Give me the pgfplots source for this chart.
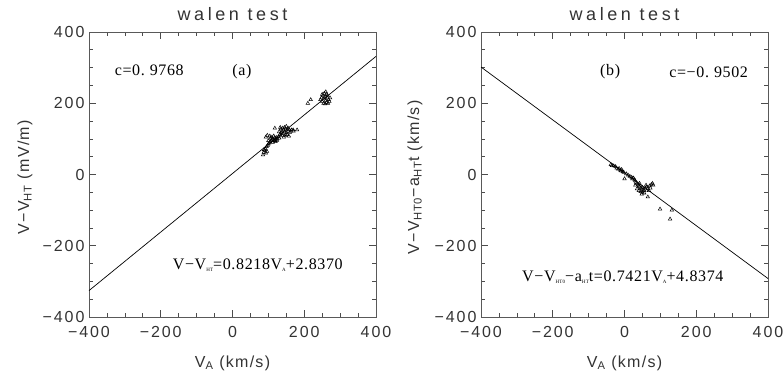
\documentclass[border=0pt]{standalone}
\usepackage{fontspec}
\setmainfont{Liberation Sans}
\newfontfamily\serifann[LetterSpace=4]{Liberation Serif}
\newfontfamily\tickf[LetterSpace=12]{Liberation Sans}
\newfontfamily\labf[LetterSpace=8]{Liberation Sans}
\newfontfamily\titlef[LetterSpace=20]{Liberation Sans}
\usepackage{pgfplots}
\pgfplotsset{compat=1.18}
\newcommand{\tinysub}[1]{\raisebox{-1.5pt}{\fontsize{5}{5}\selectfont #1}}
\pgfplotsset{
  walen/.style={
    scale only axis, width=287pt, height=285pt, anchor=south west,
    xmin=-400, xmax=400, ymin=-400, ymax=400,
    xtick={-400,-200,0,200,400}, ytick={-400,-200,0,200,400},
    xticklabels={−400,−200,0,200,400},
    yticklabels={−400,−200,0,200,400},
    minor tick num=3,
    tick align=inside,
    major tick length=7pt, minor tick length=4pt,
    axis line style={black!65, line width=0.8pt},
    every tick/.style={black!70, line width=0.7pt},
    tick label style={font=\tickf\fontsize{16}{16}\selectfont, text=black!80},
    xticklabel style={yshift=-6pt},
    yticklabel style={xshift=-1pt},
    label style={font=\labf\fontsize{16}{16}\selectfont, text=black!80},
    xlabel style={at={(axis description cs:0.5,-0.161)}, anchor=center},
    title style={font=\titlef\fontsize{18}{18}\selectfont, text=black!80, at={(axis description cs:0.5,1)}, anchor=base, yshift=6pt},
    title={walen test},
    clip=false,
  }
}
\begin{document}
\begin{tikzpicture}
\useasboundingbox (0,0) rectangle (783pt,378pt);
\begin{axis}[walen, at={(89pt,61pt)},
  xlabel={V\textsubscript{A} (km/s)},
  ylabel={V−V\textsubscript{HT} (mV/m)},
  ylabel style={at={(axis description cs:-0.223,0.49)}, anchor=center},
]
\addplot[black, line width=0.7pt] coordinates {(-400,-325.883) (400,331.557)};
\addplot[only marks, mark=triangle, mark size=2pt, mark options={black, line width=0.5pt}] coordinates {
(85,55) (87,62) (90,68) (92,72) (95,78) (98,82) (88,70) (96,65) (100,85) (93,60)
(102,88) (105,92) (108,95) (110,98) (112,100) (115,96) (118,102) (120,98) (122,104) (125,100)
(106,102) (110,105) (104,108) (128,106) (130,102) (115,108) (120,92) (112,90) (118,95) (124,96) (100,95)
(132,112) (135,118) (138,122) (140,115) (142,125) (145,120) (148,128) (150,118) (152,112) (155,122)
(158,126) (160,118) (145,132) (140,130) (135,128) (150,135) (155,130) (162,122) (165,125) (170,122)
(138,110) (148,110) (143,105) (157,108) (130,120) (133,132)
(118,130) (169,125) (180,125) (93,105) (97,110)
(210,200) (218,210)
(245,210) (248,215) (250,205) (252,222) (255,212) (258,218) (260,208) (262,225) (264,215) (266,200)
(268,210) (270,205) (256,228) (260,232) (250,225) (265,222) (258,198) (254,200) (272,215) (262,202)
};
\node[font=\serifann\fontsize{16}{16}\selectfont, anchor=west] at (axis cs:-338,292) {c=0.\hspace{5pt}9768};
\node[font=\serifann\fontsize{16}{16}\selectfont, anchor=center] at (axis cs:26,290) {(a)};
\node[font=\serifann\fontsize{16}{16}\selectfont, anchor=west] at (axis cs:-176,-254) {V−V\tinysub{HT}=0.8218V\tinysub{A}+2.8370};
\end{axis}
\begin{axis}[walen, at={(481pt,61pt)},
  xlabel={V\textsubscript{A} (km/s)},
  ylabel={V−V\textsubscript{HT0}−a\textsubscript{HT}t (km/s)},
  ylabel style={at={(axis description cs:-0.23,0.49)}, anchor=center},
]
\addplot[black, line width=0.7pt] coordinates {(-400,301.677) (400,-292.003)};
\addplot[only marks, mark=triangle, mark size=2pt, mark options={black, line width=0.5pt}] coordinates {
(-38,28) (-35,25) (-30,24) (-25,22) (-22,18) (-18,15) (-15,17) (-12,12) (-10,10) (-8,14)
(-5,8) (-2,6) (0,-12) (5,2) (10,-2) (15,-5) (20,-8) (22,-12) (25,-10) (28,-15)
(30,-18) (32,-22) (35,-25) (38,-28) (40,-32) (42,-35) (45,-38) (48,-40) (50,-36) (52,-42)
(55,-45) (40,-45) (45,-48) (50,-50) (35,-40) (42,-25) (30,-30) (58,-38) (60,-30) (62,-35)
(65,-40) (70,-32) (75,-28) (78,-25) (80,-30) (72,-38) (68,-45) (55,-52) (48,-55)
(65,-63) (99,-97) (132,-100) (127,-125)
};
\node[font=\serifann\fontsize{16}{16}\selectfont, anchor=center] at (axis cs:-40,288) {(b)};
\node[font=\serifann\fontsize{16}{16}\selectfont, anchor=east] at (axis cs:354,288) {c=−0.\hspace{5pt}9502};
\node[font=\serifann\fontsize{16}{16}\selectfont, anchor=west] at (axis cs:-295,-288) {V−V\tinysub{HT0}−a\tinysub{HT}t=0.7421V\tinysub{A}+4.8374};
\end{axis}
\end{tikzpicture}
\end{document}
